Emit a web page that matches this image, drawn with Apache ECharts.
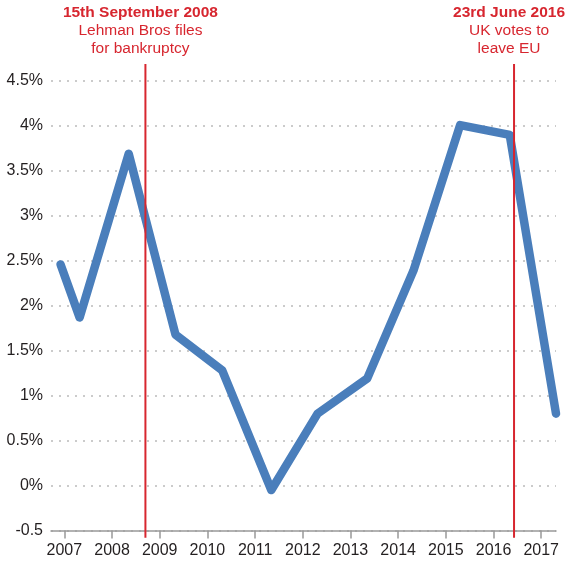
<!DOCTYPE html>
<html>
<head>
<meta charset="utf-8">
<script src="https://cdn.jsdelivr.net/npm/echarts@6/dist/echarts.min.js"></script>
<style>
  html, body { margin: 0; padding: 0; background: #fff; }
  #chart { width: 580px; height: 564px; }
</style>
</head>
<body>
<div id="chart"></div>
<script>
// growth line, x in fractional years
var years = [2006.92, 2007.32, 2008.35, 2009.33, 2010.31, 2011.34, 2012.31, 2013.35, 2014.32, 2015.30, 2016.34, 2017.31];
var growth = [2.46, 1.87, 3.69, 1.68, 1.28, -0.05, 0.80, 1.19, 2.39, 4.01, 3.90, 0.80];
var yearTicks = [2007, 2008, 2009, 2010, 2011, 2012, 2013, 2014, 2015, 2016, 2017];

// events (red vertical lines)
var eventX = [2008.70, 2016.43];
var eventTitles = ['15th September 2008', '23rd June 2016'];
var eventLines = [['Lehman Bros files', 'for bankruptcy'], ['UK votes to', 'leave EU']];
var eventTop = 4.69;
var eventBottom = -0.58;

var RED = '#d7262f';
var FONT = '"Liberation Sans", Arial, sans-serif';

var chart = echarts.init(document.getElementById('chart'));

var lineData = years.map(function (y, i) { return [y, growth[i]]; });

var eventSeries = eventX.map(function (x, i) {
  return {
    type: 'line',
    clip: false,
    silent: true,
    z: 5,
    symbol: 'circle',
    symbolSize: 0,
    showSymbol: true,
    lineStyle: { color: RED, width: 2 },
    itemStyle: { color: RED },
    data: [
      [x, eventBottom],
      {
        value: [x, eventTop],
        label: {
          show: true,
          position: 'top',
          distance: 6,
          offset: [-5, 0],
          align: 'center',
          formatter: '{b|' + eventTitles[i] + '}\n{n|' + eventLines[i][0] + '}\n{n|' + eventLines[i][1] + '}',
          rich: {
            b: { fontFamily: FONT, fontSize: 15.5, fontWeight: 'bold', color: RED, lineHeight: 18, align: 'center' },
            n: { fontFamily: FONT, fontSize: 15.5, color: RED, lineHeight: 18, align: 'center' }
          }
        }
      }
    ]
  };
});

chart.setOption({
  animation: false,
  grid: { left: 51, right: 24, top: 81, bottom: 33.5 },
  xAxis: {
    type: 'value',
    min: 2006.72,
    max: 2017.31,
    splitLine: { show: false },
    axisLine: { show: true, onZero: false, lineStyle: { color: '#999', width: 1.5 } },
    axisTick: { show: true, customValues: yearTicks, length: 8, lineStyle: { color: '#999', width: 1.5 } },
    axisLabel: {
      customValues: yearTicks,
      margin: 12,
      color: '#231f20',
      fontFamily: FONT,
      fontSize: 16,
      formatter: function (v) { return String(Math.round(v)); }
    }
  },
  yAxis: {
    type: 'value',
    min: -0.5,
    max: 4.5,
    interval: 0.5,
    axisLine: { show: false },
    axisTick: { show: false },
    splitLine: { show: true, lineStyle: { color: '#bbb', width: 1.5, type: [2, 6] } },
    axisLabel: {
      margin: 8,
      color: '#231f20',
      fontFamily: FONT,
      fontSize: 16,
      formatter: function (v) { return v === -0.5 ? '-0.5' : v + '%'; }
    }
  },
  series: [{
    type: 'line',
    clip: false,
    z: 3,
    showSymbol: false,
    symbol: 'none',
    lineStyle: { color: '#4a7ebb', width: 8.5, cap: 'round', join: 'round' },
    data: lineData
  }].concat(eventSeries)
});
</script>
</body>
</html>
